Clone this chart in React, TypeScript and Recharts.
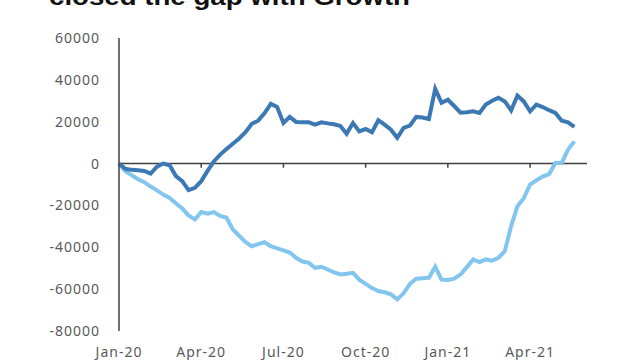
import {
  LineChart,
  Line,
  XAxis,
  YAxis,
  ReferenceLine,
} from "recharts";

// weeks since start of Jan-20
const quarterTicks = [0, 13, 26, 39, 52, 65];
const quarterLabels = ["Jan-20", "Apr-20", "Jul-20", "Oct-20", "Jan-21", "Apr-21"];
const yTicks = [-80000, -60000, -40000, -20000, 0, 20000, 40000, 60000];

const darkSeries = [
  0, -2500, -3000, -3200, -3500, -4800, -1500, 0, -800, -6000,
  -8400, -12700, -11600, -8400, -3500, 1000, 4300, 7000, 9500, 12000,
  15000, 19000, 20500, 24000, 28500, 27000, 19400, 22300, 19900, 19800,
  19700, 18600, 19700, 19200, 18800, 18000, 14300, 19400, 15400, 16500,
  14900, 20700, 18600, 16200, 12300, 17000, 18100, 22300, 22000, 21300,
  35700, 29000, 30500, 27500, 24300, 24500, 25000, 24200, 28200, 30000,
  31400, 29700, 25400, 32500, 29700, 25000, 28200, 27000, 25500, 24200,
  20500, 19700, 17500,
];

const lightSeries = [
  0, -3700, -5500, -7500, -8900, -11000, -12800, -14800, -16400, -19000,
  -21500, -24800, -26700, -23200, -24000, -23200, -25000, -25900, -31500, -34500,
  -37500, -39500, -38500, -37600, -39500, -40500, -41500, -42500, -45000, -46800,
  -47400, -49800, -49300, -50600, -52000, -53000, -52600, -52200, -55500, -57500,
  -59500, -60900, -61500, -62500, -64900, -62000, -57500, -55000, -54800, -54600,
  -49300, -55400, -55600, -55000, -53000, -49500, -45800, -47100, -45800, -46400,
  -45000, -41900, -30000, -20400, -16500, -10000, -8000, -6200, -5000, 300,
  300, 6700, 10600,
];

const data = darkSeries.map((d, i) => ({ w: i, dark: d, light: lightSeries[i] }));

const axisColor = "#404040";
const tickStyle = { fontSize: 14, fill: "#595959", fontFamily: "Noto Sans", letterSpacing: 1 };

export default function App() {
  return (
    <div style={{ position: "absolute", left: 0, top: 0, width: 640, height: 360, background: "#fff" }}>
      <svg width={640} height={20} style={{ position: "absolute", left: 0, top: 0 }}>
        <text
          x={49}
          y={5}
          fontFamily="Liberation Sans"
          fontWeight="bold"
          fontSize={24}
          fill="#111"
          textLength={361}
          lengthAdjust="spacingAndGlyphs"
        >
          closed the gap with Growth
        </text>
      </svg>
      <LineChart
        width={640}
        height={360}
        data={data}
        margin={{ top: 38, right: 53, bottom: 0, left: 0 }}
      >
        <XAxis
          dataKey="w"
          type="number"
          domain={[0, 74]}
          ticks={quarterTicks}
          tickFormatter={(v: number) => quarterLabels[quarterTicks.indexOf(v)]}
          axisLine={false}
          tickLine={false}
          tickMargin={10}
          height={29}
          tick={tickStyle}
          interval={0}
        />
        <YAxis
          domain={[-80000, 60000]}
          ticks={yTicks}
          width={119}
          axisLine={{ stroke: axisColor, strokeWidth: 1.5 }}
          tickLine={false}
          tickMargin={13}
          tick={tickStyle}
          interval={0}
        />
        <ReferenceLine y={0} stroke={axisColor} strokeWidth={1.5} />
        {quarterTicks.slice(1).map((t) => (
          <ReferenceLine
            key={t}
            segment={[
              { x: t, y: 0 },
              { x: t, y: -2000 },
            ]}
            stroke={axisColor}
            strokeWidth={1.5}
          />
        ))}
        <Line
          dataKey="light"
          stroke="#82c6ef"
          strokeWidth={4}
          dot={false}
          isAnimationActive={false}
        />
        <Line
          dataKey="dark"
          stroke="#3c78b4"
          strokeWidth={4}
          dot={false}
          isAnimationActive={false}
        />
      </LineChart>
    </div>
  );
}
